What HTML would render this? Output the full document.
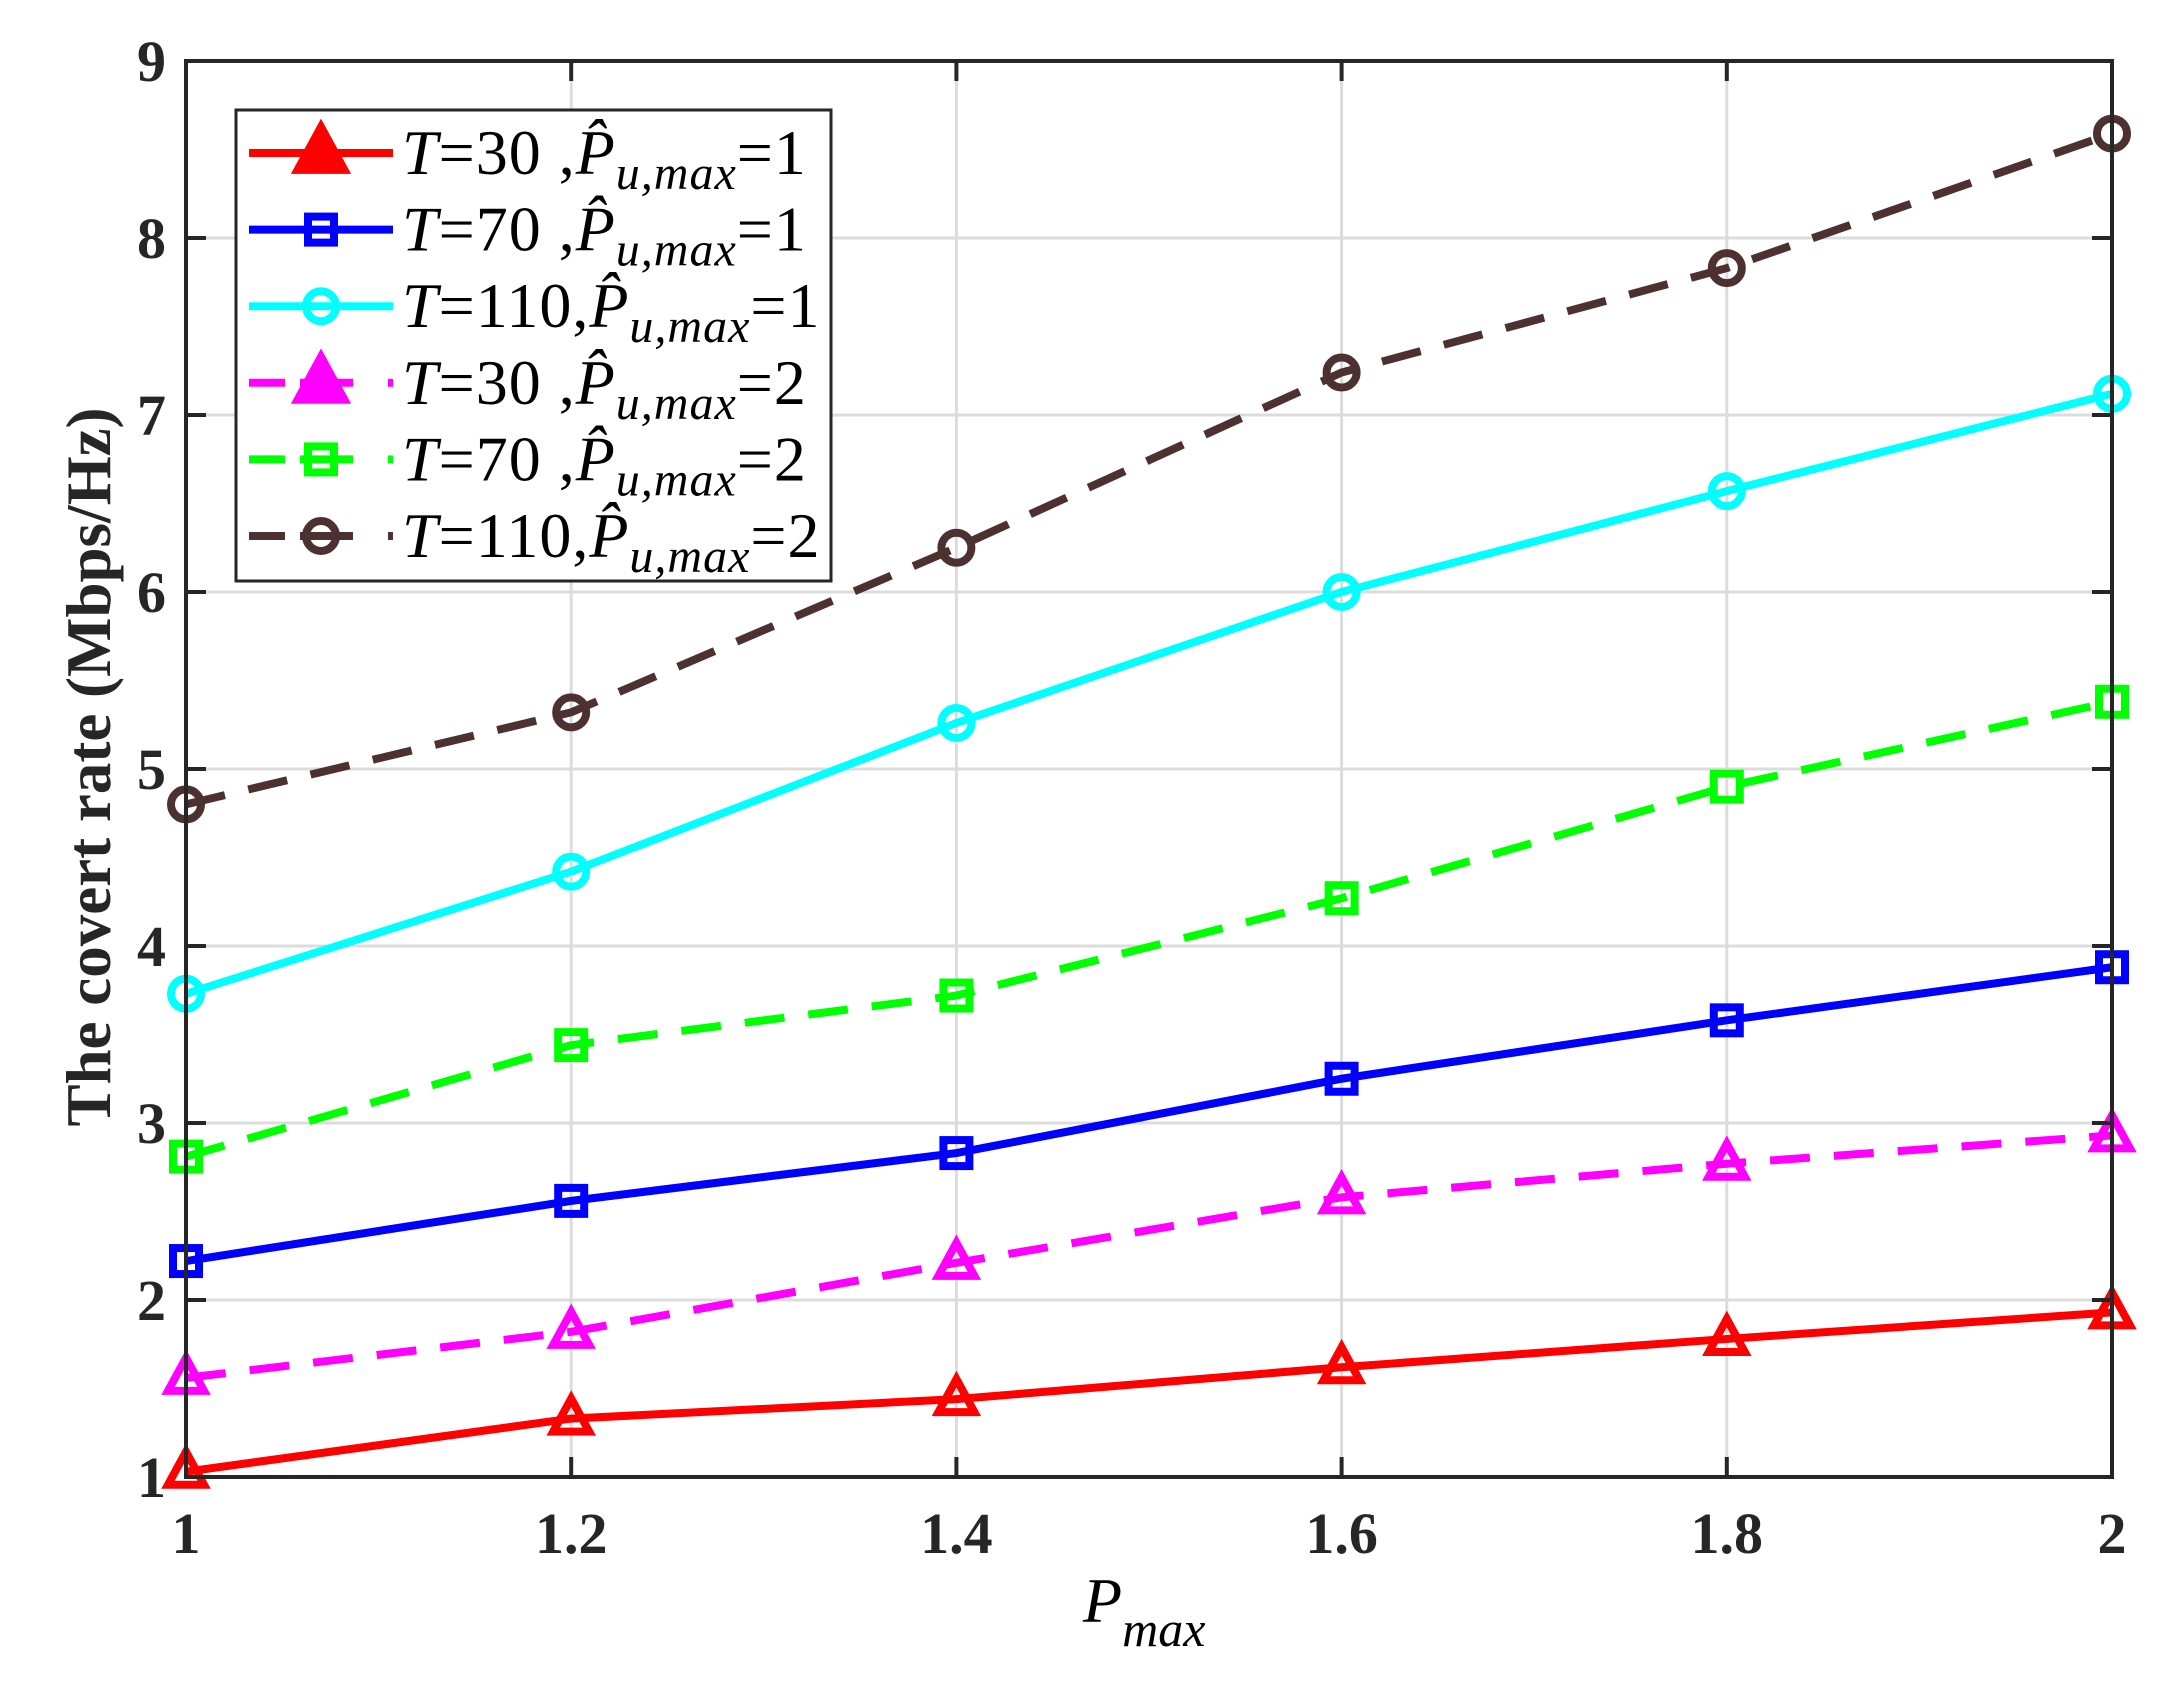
<!DOCTYPE html>
<html><head><meta charset="utf-8"><style>
html,body{margin:0;padding:0;background:#fff}
svg{display:block}
text{font-family:"Liberation Serif",serif}
</style></head><body>
<svg id="chart" width="2159" height="1683" viewBox="0 0 2159 1683" xmlns="http://www.w3.org/2000/svg">
<g id="grid"></g>
<g id="series"></g>
<rect x="186" y="61" width="1926" height="1416" fill="none" stroke="#262626" stroke-width="4"/>
<g id="ticks"></g>
<text transform="translate(110,767) rotate(-90)" text-anchor="middle" font-size="63" font-weight="bold" fill="#262626">The covert rate (Mbps/Hz)</text>
<text x="1083" y="1622" font-size="64" font-style="italic" fill="#000">P<tspan font-size="50" dy="24">max</tspan></text>
<g id="legend"></g>
</svg>
<script>
const xValues = [1, 1.2, 1.4, 1.6, 1.8, 2];
const xTickLabels = ["1", "1.2", "1.4", "1.6", "1.8", "2"];
const yTicks = [1, 2, 3, 4, 5, 6, 7, 8, 9];
const redT30P1 = [1.03, 1.33, 1.44, 1.62, 1.78, 1.93];
const blueT70P1 = [2.22, 2.56, 2.83, 3.25, 3.58, 3.88];
const cyanT110P1 = [3.73, 4.42, 5.26, 6.0, 6.57, 7.12];
const magentaT30P2 = [1.56, 1.82, 2.21, 2.58, 2.77, 2.93];
const greenT70P2 = [2.81, 3.44, 3.72, 4.27, 4.9, 5.38];
const brownT110P2 = [4.8, 5.32, 6.25, 7.24, 7.83, 8.59];
const seriesNames = ["30", "70", "110", "30", "70", "110"];
const seriesP = ["1", "1", "1", "2", "2", "2"];

const NS = "http://www.w3.org/2000/svg";
const L = 186, R = 2112, T = 61, B = 1477;
const xs = v => L + (v - 1) / (2 - 1) * (R - L);
const ys = v => B - (v - 1) / (9 - 1) * (B - T);
function mk(tag, attrs, parent) {
  const e = document.createElementNS(NS, tag);
  for (const k in attrs) e.setAttribute(k, attrs[k]);
  parent.appendChild(e);
  return e;
}
const grid = document.getElementById('grid');
const ticks = document.getElementById('ticks');
xValues.forEach((v, i) => {
  const g = mk('line', {x1: xs(v), x2: xs(v), y1: T, y2: B, stroke: '#dcdcdc', 'stroke-width': 3}, grid);
  
  
  mk('line', {x1: xs(v), x2: xs(v), y1: B, y2: B - 20, stroke: '#262626', 'stroke-width': 4}, ticks);
  mk('line', {x1: xs(v), x2: xs(v), y1: T, y2: T + 20, stroke: '#262626', 'stroke-width': 4}, ticks);
  const t = mk('text', {x: xs(v), y: 1553, 'text-anchor': 'middle', 'font-size': 58, 'font-weight': 'bold', fill: '#262626'}, ticks);
  t.textContent = xTickLabels[i];
  
  
});
yTicks.forEach(v => {
  const g = mk('line', {x1: L, x2: R, y1: ys(v), y2: ys(v), stroke: '#dcdcdc', 'stroke-width': 3}, grid);
  
  
  mk('line', {x1: L, x2: L + 20, y1: ys(v), y2: ys(v), stroke: '#262626', 'stroke-width': 4}, ticks);
  mk('line', {x1: R, x2: R - 20, y1: ys(v), y2: ys(v), stroke: '#262626', 'stroke-width': 4}, ticks);
  const t = mk('text', {x: 166, y: ys(v) + 20, 'text-anchor': 'end', 'font-size': 58, 'font-weight': 'bold', fill: '#262626'}, ticks);
  t.textContent = v;
  
  
});

const seriesData = [redT30P1, blueT70P1, cyanT110P1, magentaT30P2, greenT70P2, brownT110P2];
const colors = ['#ff0000', '#0000ff', '#00ffff', '#ff00ff', '#00ff00', '#4d3030'];
const markers = ['tri', 'sq', 'circ', 'tri', 'sq', 'circ'];
const dashed = [false, false, false, true, true, true];
const sg = document.getElementById('series');

function marker(type, cx, cy, color, filled, parent, scale) {
  const s = scale || 1;
  let e;
  if (type === 'tri') {
    const h = 20 * s;
    e = mk('polygon', {points: `${cx},${cy - h} ${cx - 18 * s},${cy + h * 0.65} ${cx + 18 * s},${cy + h * 0.65}`, fill: filled ? color : 'none', stroke: color, 'stroke-width': 8, 'stroke-linejoin': 'miter'}, parent);
  } else if (type === 'sq') {
    e = mk('rect', {x: cx - 13 * s, y: cy - 13 * s, width: 26 * s, height: 26 * s, fill: 'none', stroke: color, 'stroke-width': 8}, parent);
  } else {
    e = mk('circle', {cx: cx, cy: cy, r: 15 * s, fill: 'none', stroke: color, 'stroke-width': 8}, parent);
  }
  return e;
}

seriesData.forEach((data, si) => {
  const g = mk('g', {}, sg);
  
  
  const pts = data.map((v, i) => xs(xValues[i]) + ',' + ys(v)).join(' ');
  const pl = mk('polyline', {points: pts, fill: 'none', stroke: colors[si], 'stroke-width': 8, 'stroke-dasharray': dashed[si] ? '40 24' : 'none'}, g);
  
  
  data.forEach((v, i) => {
    const m = marker(markers[si], xs(xValues[i]), ys(v), colors[si], false, g);
    
    
  });
});

// legend
const lg = document.getElementById('legend');
const box = mk('rect', {x: 236, y: 110, width: 595, height: 471, fill: '#fff', stroke: '#262626', 'stroke-width': 3}, lg);


seriesData.forEach((d, si) => {
  const cy = 153 + si * 76.6;
  const e = mk('g', {}, lg);
  
  
  if (dashed[si]) {
    mk('line', {x1: 249, x2: 285, y1: cy, y2: cy, stroke: colors[si], 'stroke-width': 8}, e);
    mk('line', {x1: 300, x2: 353, y1: cy, y2: cy, stroke: colors[si], 'stroke-width': 8}, e);
    mk('line', {x1: 388, x2: 393, y1: cy, y2: cy, stroke: colors[si], 'stroke-width': 8}, e);
  } else {
    mk('line', {x1: 249, x2: 393, y1: cy, y2: cy, stroke: colors[si], 'stroke-width': 8}, e);
  }
  marker(markers[si], 321, cy, colors[si], markers[si] === 'tri', e, markers[si] === 'tri' ? 1.3 : 1);
  const t = mk('text', {x: 402, y: cy + 21, 'font-size': 64, fill: '#000', 'letter-spacing': 1}, e);
  const pad = seriesNames[si].length < 3 ? '\u00a0,' : ',';
  t.innerHTML = '<tspan font-style="italic">T</tspan>=' + seriesNames[si] + pad +
    '<tspan font-style="italic">P\u0302</tspan><tspan font-style="italic" font-size="48" dy="15">u,max</tspan><tspan dy="-15">=' + seriesP[si] + '</tspan>';
});
</script>
</body></html>
